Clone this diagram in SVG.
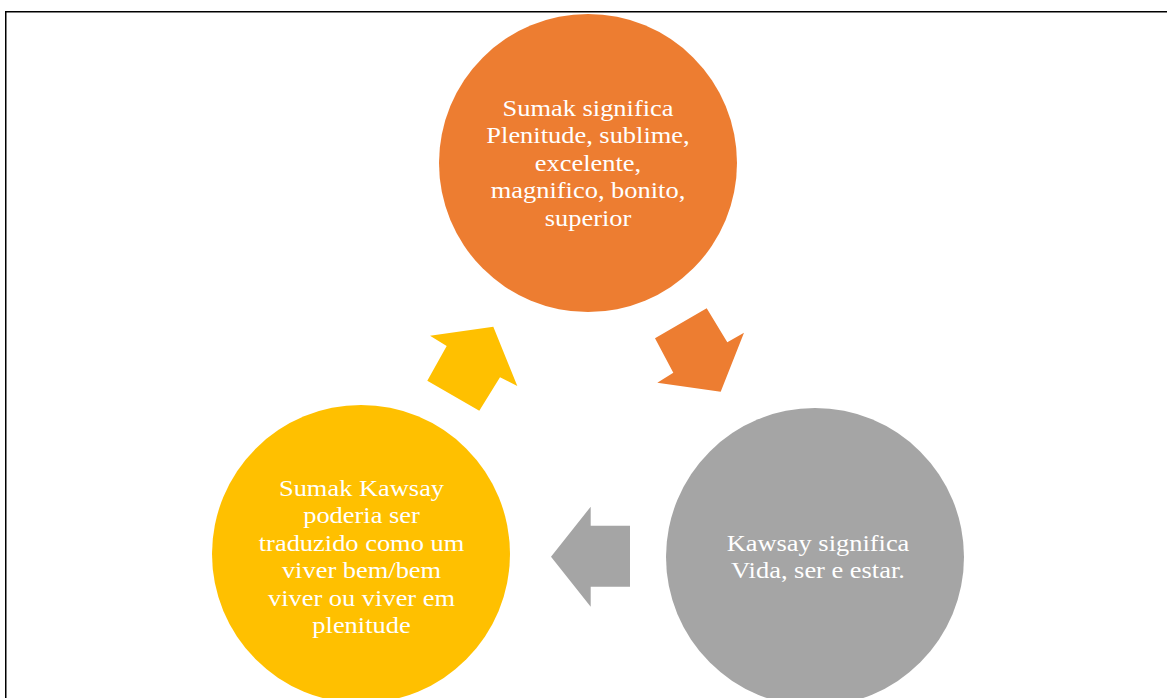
<svg xmlns="http://www.w3.org/2000/svg" width="1167" height="698" viewBox="0 0 1167 698">
<style>
.t{font-family:"Liberation Serif","Times New Roman",serif;font-size:22.7px;fill:#fff;text-anchor:middle}
</style>
<rect width="1167" height="698" fill="#fff"/>
<path d="M5.75,698 V11.75 H1167" fill="none" stroke="#000" stroke-width="1.5"/>
<g id="connectors">
<polygon id="arrow-yellow" fill="#FFC000" points="430,335.7 493.3,326.7 517.3,386 500,377.3 479.3,410.7 427.3,380.7 446.7,346"/>
<polygon id="arrow-orange" fill="#ED7D31" points="655,338.3 706.7,308.3 727.3,342.3 744,332.7 720.7,391.7 657.3,382.7 673.3,372.7"/>
<polygon id="arrow-gray" fill="#A5A5A5" points="630,525.7 590.7,525.7 590.7,506.7 551,556.7 590.7,606.7 590.7,586.7 630,586.7"/>
</g>
<g id="node-sumak">
<circle cx="588" cy="163" r="149" fill="#ED7D31"/>
<g transform="translate(588,0) scale(1.165,1)">
<text class="t" x="0" y="116">Sumak significa</text>
<text class="t" x="0" y="143.5">Plenitude, sublime,</text>
<text class="t" x="0" y="171">excelente,</text>
<text class="t" x="0" y="198.5">magnifico, bonito,</text>
<text class="t" x="0" y="226">superior</text>
</g>
</g>
<g id="node-kawsay">
<circle cx="815" cy="557" r="149" fill="#A5A5A5"/>
<g transform="translate(818,0) scale(1.165,1)">
<text class="t" x="0" y="551">Kawsay significa</text>
<text class="t" x="0" y="578.5">Vida, ser e estar.</text>
</g>
</g>
<g id="node-sumak-kawsay">
<circle cx="361" cy="554" r="149" fill="#FFC000"/>
<g transform="translate(361.5,0) scale(1.165,1)">
<text class="t" x="0" y="496">Sumak Kawsay</text>
<text class="t" x="0" y="523.5">poderia ser</text>
<text class="t" x="0" y="551">traduzido como um</text>
<text class="t" x="0" y="578.5">viver bem/bem</text>
<text class="t" x="0" y="606">viver ou viver em</text>
<text class="t" x="0" y="633.5">plenitude</text>
</g>
</g>
</svg>
